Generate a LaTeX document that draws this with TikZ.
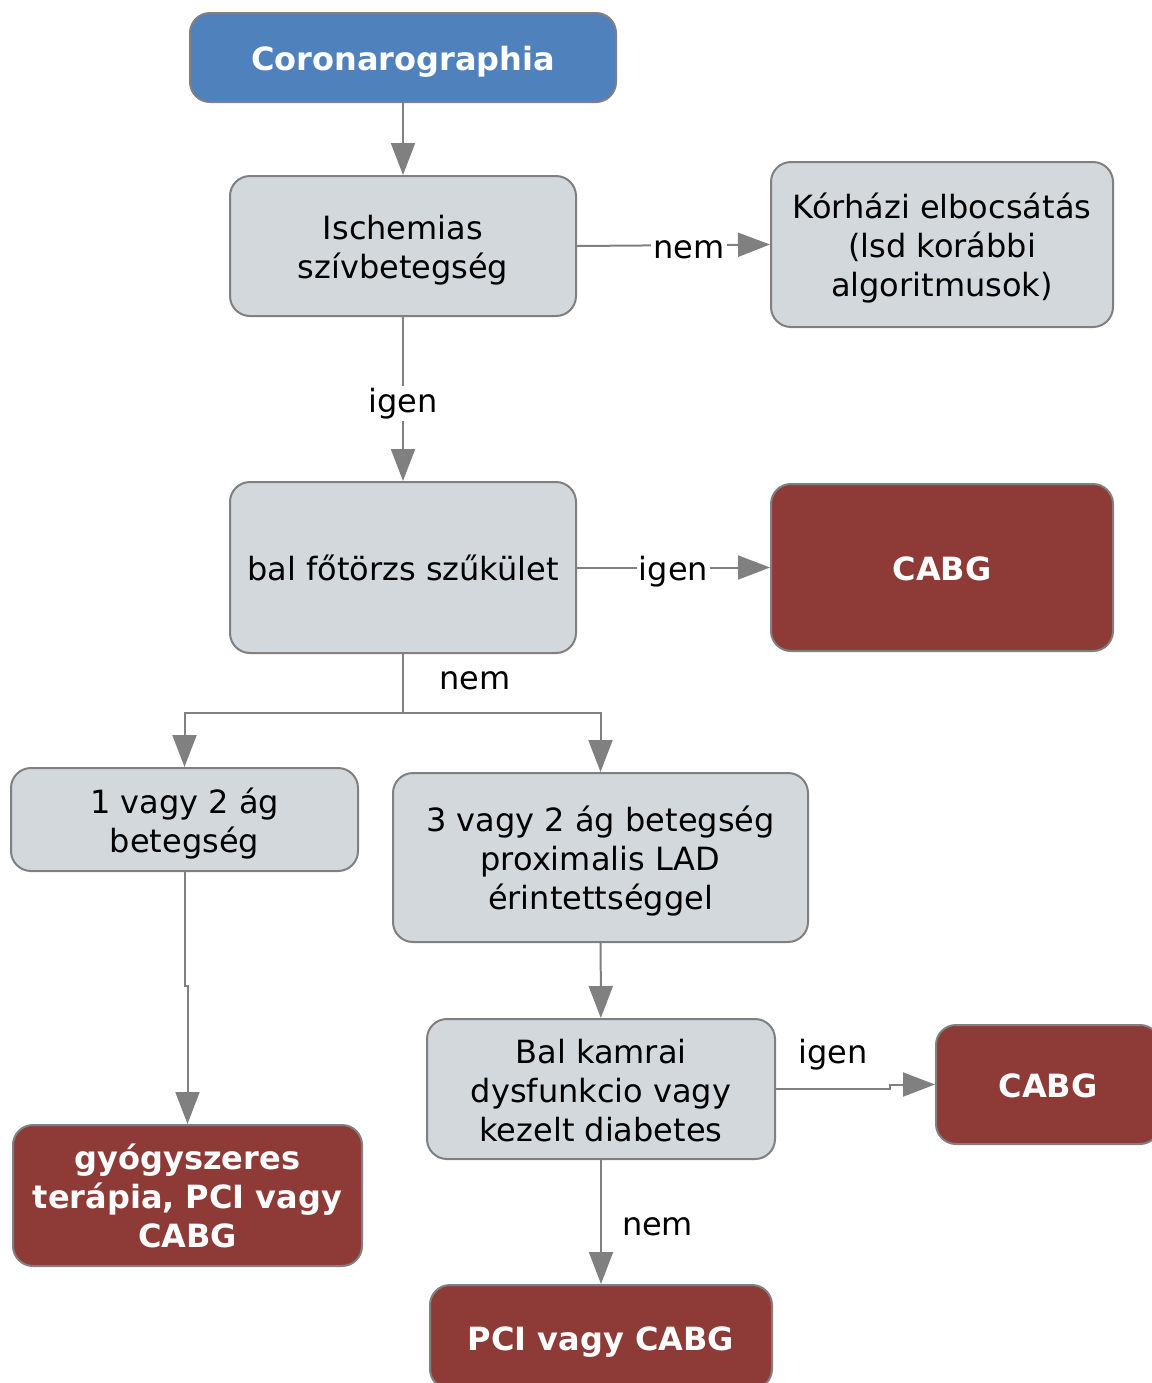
\documentclass[tikz,border=0pt]{standalone}
\usepackage{fontspec}
\setmainfont{DejaVu Sans}
\usetikzlibrary{positioning,arrows.meta}
\definecolor{boxgray}{HTML}{D3D8DC}
\definecolor{headblue}{HTML}{4F81BD}
\definecolor{outred}{HTML}{8E3B38}
\definecolor{linegray}{HTML}{808080}
% invisible struts so that every box text sits on the same line grid
\newcommand{\lift}{\rule{0pt}{17pt}}
\newcommand{\sink}{\rule[-3.8pt]{0pt}{0pt}}

\begin{document}
\begin{tikzpicture}[
    x=0.5pt, y=-0.5pt,
    box/.style={draw=linegray, line width=1pt, rounded corners=10pt, fill=boxgray, align=center, inner sep=2pt, font=\fontsize{16}{19.5}\selectfont},
    head/.style={box, fill=headblue, text=white, font=\fontsize{16}{19.5}\selectfont\bfseries},
    outcome/.style={box, fill=outred, text=white, font=\fontsize{16}{19.5}\selectfont\bfseries},
    link/.style={draw=linegray, line width=1pt, -{Triangle[length=16pt,width=12pt]}},
    lbl/.style={inner sep=1pt, yshift=-2.2pt, font=\fontsize{16}{19.5}\selectfont},
    tag/.style={lbl, fill=white}
]
\useasboundingbox (0,0) rectangle (1152,1383);

% Define node positions
\node[head, minimum width=213pt, minimum height=44.5pt] (start) at (403,57.5) {\lift Coronarographia\sink};
\node[box, minimum width=173pt, minimum height=70pt] (isch) at (403,246) {\lift Ischemias\\szívbetegség\sink};
\node[box, minimum width=171pt, minimum height=82.5pt] (home) at (942,244.5) {\lift Kórházi elbocsátás\\(lsd korábbi\\algoritmusok)\sink};
\node[box, minimum width=173pt, minimum height=85.5pt] (lms) at (403,567.5) {\lift bal főtörzs szűkület\sink};
\node[outcome, minimum width=171pt, minimum height=83.5pt] (cabgA) at (942,567.5) {\lift CABG\sink};
\node[box, minimum width=173.5pt, minimum height=51.5pt] (onetwo) at (184.5,819.5) {\lift 1 vagy 2 ág\\betegség\sink};
\node[box, minimum width=207.5pt, minimum height=84.5pt] (three) at (600.5,857.5) {\lift 3 vagy 2 ág betegség\\proximalis LAD\\érintettséggel\sink};
\node[box, minimum width=174pt, minimum height=70pt] (lvd) at (601,1089) {\lift Bal kamrai\\dysfunkcio vagy\\kezelt diabetes\sink};
\node[outcome, minimum width=112pt, minimum height=59.5pt] (cabgB) at (1048,1084.5) {\lift CABG\sink};
\node[outcome, minimum width=174.5pt, minimum height=70.5pt] (drug) at (187.5,1195.5) {\lift gyógyszeres\\terápia, PCI vagy\\CABG\sink};
\node[outcome, minimum width=171pt, minimum height=52pt] (pci) at (601,1337) {\lift PCI vagy CABG\sink};

% Connectors
\draw[link] (start) -- (isch);
\draw[link] (isch.east) -- node[tag, pos=0.58] {nem} (home.west);
\draw[link] (isch) -- node[tag] {igen} (lms);
\draw[link] (lms) -- node[tag] {igen} (cabgA);

% Split below the left main stem box
\coordinate (split) at (403,713);
\draw[draw=linegray, line width=1pt] (lms.south) -- (split);
\draw[link] (split) -| (onetwo.north);
\draw[link] (split) -| (three.north);
\node[lbl] (nemsplit) at (475,676) {nem};

\draw[link] (onetwo.south) -- ++(0,114) -| (drug.north);
\draw[link] (three) -- (lvd);
\draw[link] (lvd.east) -- node[lbl, above=10.2pt] {igen} (890,1089) |- (cabgB.west);
\draw[link] (lvd) -- node[lbl, right=9pt] {nem} (pci);

\end{tikzpicture}
\end{document}
